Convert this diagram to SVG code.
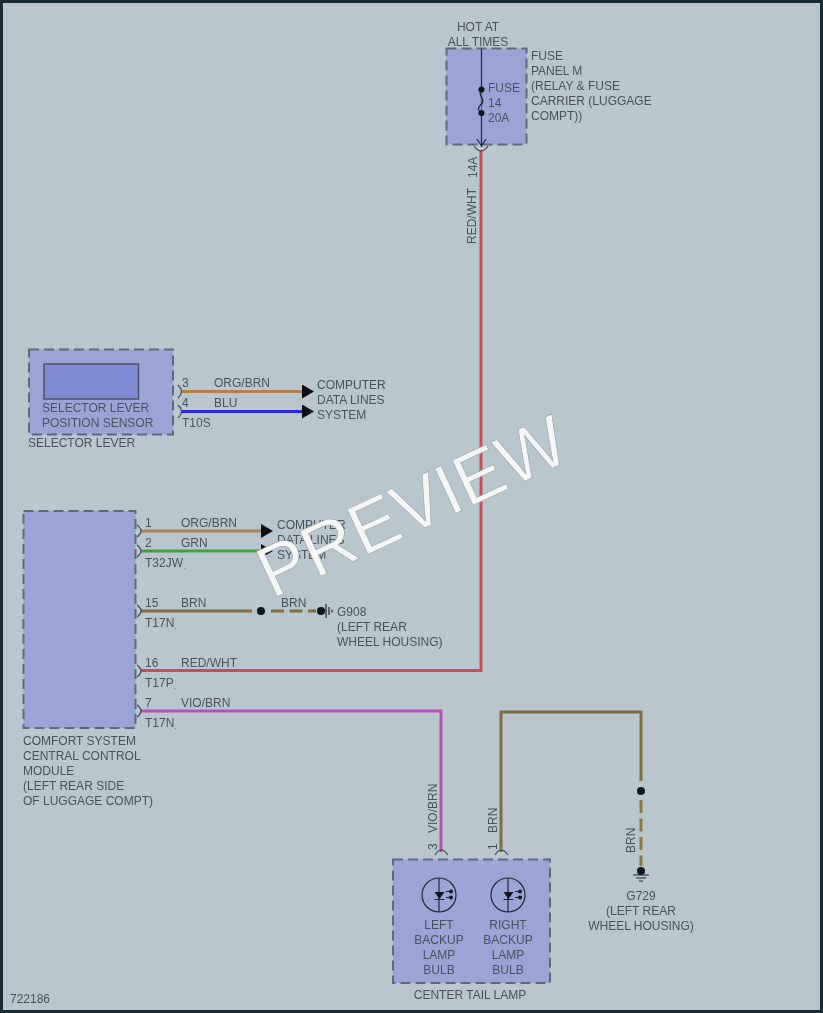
<svg xmlns="http://www.w3.org/2000/svg" width="823" height="1013" viewBox="0 0 823 1013">
<style>
text{font-family:"Liberation Sans",Arial,sans-serif;font-size:12px;fill:#4a515c}
.box{fill:#9aa5d6;stroke:#5d6878;stroke-width:2;stroke-dasharray:10 5}
.w{fill:none;stroke-width:3}
.dash{stroke-dasharray:13 5.500}
.c{fill:none;stroke:#3f4a5c;stroke-width:1.2}
.k{fill:none;stroke:#1f2733;stroke-width:1.2}
.d{fill:#10151d}
.m{text-anchor:middle}
.s{font-size:8px}
</style>
<defs>
<marker id="arrow" markerUnits="userSpaceOnUse" markerWidth="12" markerHeight="14" refX="0" refY="7" orient="auto"><path d="M0 0L12 7L0 14Z" fill="#0b0f16"/></marker>
<filter id="soft" x="0" y="0" width="100%" height="100%"><feGaussianBlur stdDeviation="0.35"/></filter>
</defs>
<rect width="823" height="1013" fill="#b9c6ce"/>
<g filter="url(#soft)">
<g id="fuse-panel">
<rect class="box" x="446.500" y="48.500" width="80" height="96"/>
<path class="k" d="M481.500 49V147M477 139L481.500 146L486 139"/>
<path d="M481.500 90C476 95 487 100 481.500 104C477 108 478 111 481.500 113" fill="#9aa5d6" stroke="#1f2733" stroke-width="1.2"/>
<circle class="d" cx="481.500" cy="89.500" r="3"/><circle class="d" cx="481.500" cy="113" r="3"/>
<text class="m" x="478" y="31">HOT AT</text><text class="m" x="478" y="46">ALL TIMES</text>
<text x="488" y="92">FUSE</text><text x="488" y="107">14</text><text x="488" y="122">20A</text>
<text x="531" y="60">FUSE</text><text x="531" y="75">PANEL M</text><text x="531" y="90">(RELAY &amp; FUSE</text><text x="531" y="105">CARRIER (LUGGAGE</text><text x="531" y="120">COMPT))</text>
</g>
<g id="selector-lever">
<rect class="box" x="29" y="349.500" width="144" height="85"/>
<rect x="44" y="364" width="94.500" height="35" fill="#7f8bd4" stroke="#4a5468" stroke-width="1.500"/>
<text x="42" y="412">SELECTOR LEVER</text><text x="42" y="427">POSITION SENSOR</text>
<text x="28" y="446.500">SELECTOR LEVER</text>
</g>
<g id="comfort-module">
<rect class="box" x="23.500" y="511" width="112" height="217"/>
<text x="23" y="745">COMFORT SYSTEM</text><text x="23" y="760">CENTRAL CONTROL</text><text x="23" y="775">MODULE</text><text x="23" y="790">(LEFT REAR SIDE</text><text x="23" y="805">OF LUGGAGE COMPT)</text>
</g>
<g id="center-tail-lamp">
<rect class="box" x="393" y="859.500" width="157" height="123.500"/>
<g id="left-bulb"><circle class="k" cx="439" cy="895" r="17"/><path class="k" d="M439 878V912"/><path d="M434.500 892H444.500L439.500 899Z" fill="#10151d"/><path class="k" d="M434.500 899.500H444.500M446 891.500H453M446 897.500H453"/><circle class="d" cx="451" cy="891.500" r="2"/><circle class="d" cx="451" cy="897.500" r="2"/></g>
<g id="right-bulb"><circle class="k" cx="508" cy="895" r="17"/><path class="k" d="M508 878V912"/><path d="M503.500 892H513.500L508.500 899Z" fill="#10151d"/><path class="k" d="M503.500 899.500H513.500M515 891.500H522M515 897.500H522"/><circle class="d" cx="520" cy="891.500" r="2"/><circle class="d" cx="520" cy="897.500" r="2"/></g>
<text class="m" x="439" y="929">LEFT</text><text class="m" x="439" y="944">BACKUP</text><text class="m" x="439" y="959">LAMP</text><text class="m" x="439" y="974">BULB</text>
<text class="m" x="508" y="929">RIGHT</text><text class="m" x="508" y="944">BACKUP</text><text class="m" x="508" y="959">LAMP</text><text class="m" x="508" y="974">BULB</text>
<text class="m" x="470" y="999">CENTER TAIL LAMP</text>
</g>
<g id="g908">
<circle class="d" cx="321" cy="611" r="4"/>
<path class="k" d="M326 604V618M329 607V615M332 609.500V612.500"/>
<text x="337" y="615.500">G908</text><text x="337" y="630.500">(LEFT REAR</text><text x="337" y="645.500">WHEEL HOUSING)</text>
</g>
<g id="g729">
<circle class="d" cx="641" cy="871" r="4"/>
<path class="k" d="M633 875H649M636 878H646M639 881H643"/>
<text class="m" x="641" y="900">G729</text><text class="m" x="641" y="914.500">(LEFT REAR</text><text class="m" x="641" y="929.500">WHEEL HOUSING)</text>
</g>
<g id="computer-data-lines-1"><text x="317" y="389">COMPUTER</text><text x="317" y="404">DATA LINES</text><text x="317" y="419">SYSTEM</text></g>
<g id="computer-data-lines-2"><text x="277" y="529">COMPUTER</text><text x="277" y="544">DATA LINES</text><text x="277" y="559">SYSTEM</text></g>
<g id="connectors">
<path class="w" stroke="#c8505a" d="M481 150V670.500H141"/>
<path class="w" stroke="#b08055" marker-end="url(#arrow)" d="M181 391.500H302"/>
<path class="w" stroke="#2b2bdc" marker-end="url(#arrow)" d="M181 411.500H302"/>
<path class="w" stroke="#b08055" marker-end="url(#arrow)" d="M141 531H261"/>
<path class="w" stroke="#45a045" marker-end="url(#arrow)" d="M141 551H261"/>
<path class="w" stroke="#7d6f3f" d="M141 611H252"/>
<path class="w dash" stroke="#7d6f3f" d="M271 611H316"/>
<circle class="d" cx="261" cy="611" r="4"/>
<path class="w" stroke="#b850b8" d="M141 711H441V852"/>
<path class="w" stroke="#7d6f3f" d="M501 852V712H641V781"/>
<path class="w dash" stroke="#8a7a3f" d="M641 800V866"/>
<circle class="d" cx="641" cy="791" r="4"/>
<path class="c" d="M474 146Q481 156 488 146M178 385Q185 391.500 178 398M178 405Q185 411.500 178 418M137 525Q145 531 137 537M137 545Q145 551 137 557M137 605Q145 611 137 617M137 665Q145 671 137 677M137 705Q145 711 137 717M435 855Q441 845 448 855M495 855Q501 845 508 855"/>
<text transform="translate(477 178) rotate(-90)">14A</text>
<text transform="translate(476 244) rotate(-90)">RED/WHT</text>
<text x="182" y="387">3</text><text x="214" y="387">ORG/BRN</text>
<text x="182" y="407">4</text><text x="214" y="407">BLU</text>
<text x="182" y="427">T10S<tspan class="s" dy="2">.</tspan></text>
<text x="145" y="527">1</text><text x="181" y="527">ORG/BRN</text>
<text x="145" y="547">2</text><text x="181" y="547">GRN</text>
<text x="145" y="567">T32JW<tspan class="s" dy="2">.</tspan></text>
<text x="145" y="607">15</text><text x="181" y="607">BRN</text>
<text x="281" y="607">BRN</text>
<text x="145" y="627">T17N<tspan class="s" dy="2">.</tspan></text>
<text x="145" y="667">16</text><text x="181" y="667">RED/WHT</text>
<text x="145" y="687">T17P<tspan class="s" dy="2">.</tspan></text>
<text x="145" y="707">7</text><text x="181" y="707">VIO/BRN</text>
<text x="145" y="727">T17N<tspan class="s" dy="2">.</tspan></text>
<text transform="translate(437 850) rotate(-90)">3</text>
<text transform="translate(437 833) rotate(-90)">VIO/BRN</text>
<text transform="translate(497 850) rotate(-90)">1</text>
<text transform="translate(497 833) rotate(-90)">BRN</text>
<text transform="translate(635 853) rotate(-90)">BRN</text>
</g>
<text x="10" y="1003">722186</text>
<text transform="translate(272 599) rotate(-25)" style="font-size:72px;fill:#f4f6f7;stroke:#8d979f;stroke-width:.5">PREVIEW</text>
</g>
<rect x="1.500" y="1.500" width="820" height="1010" fill="none" stroke="#1a2b38" stroke-width="3"/>
</svg>
